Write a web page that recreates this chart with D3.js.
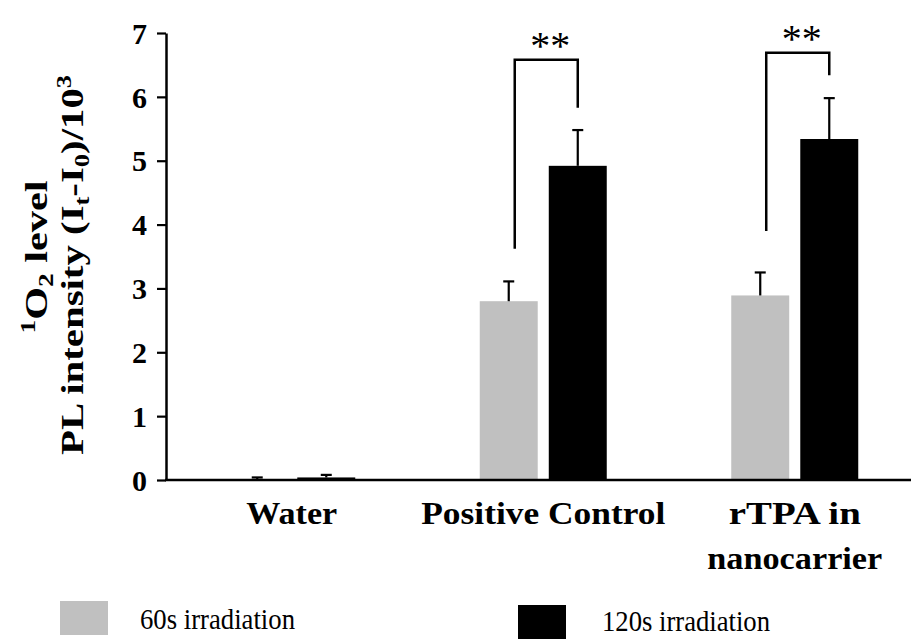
<!DOCTYPE html>
<html>
<head>
<meta charset="utf-8">
<script src="https://cdn.jsdelivr.net/npm/d3@7"></script>
<style>
  body { margin: 0; background: #fff; }
  svg { display: block; }
  .serif { font-family: "Liberation Serif", "Times New Roman", serif; }
</style>
</head>
<body>
<div id="chart"></div>
<script>
// ---------------- data ----------------
var categories = ["Water", "Positive Control", "rTPA in nanocarrier"];
var categoryLines = [["Water"], ["Positive Control"], ["rTPA in", "nanocarrier"]];
var series = ["60s irradiation", "120s irradiation"];
var values60 = [0.01, 2.80, 2.89];
var errors60 = [0.03, 0.31, 0.36];
var values120 = [0.04, 4.92, 5.34];
var errors120 = [0.04, 0.56, 0.64];
var yTicks = [0, 1, 2, 3, 4, 5, 6, 7];
// significance brackets: [category, bracket top, left leg end, right leg end]
var sigCategory = ["Positive Control", "rTPA in nanocarrier"];
var sigTop = [6.58, 6.69];
var sigLeftEnd = [3.62, 3.90];
var sigRightEnd = [5.83, 6.34];
var sigLabel = ["**", "**"];

var colors = { "60s irradiation": "#c0c0c0", "120s irradiation": "#000000" };

// ---------------- setup ----------------
var W = 911, H = 639;
var svg = d3.select("#chart").append("svg")
	.attr("width", W).attr("height", H)
	.attr("class", "serif");

var x0 = d3.scaleBand().domain(categories).range([166, 920.5]);
var x1 = d3.scaleBand().domain(series).range([-63.5, 63.5]).paddingInner(0.16);
var y = d3.scaleLinear().domain([0, 7]).range([480, 33]);

var rows = [];
categories.forEach(function(c, i) {
	rows.push({ cat: c, s: series[0], v: values60[i], e: errors60[i] });
	rows.push({ cat: c, s: series[1], v: values120[i], e: errors120[i] });
});
function cx(d) { return x0(d.cat) + x0.bandwidth() / 2 + x1(d.s) + x1.bandwidth() / 2; }

// ---------------- bars ----------------
svg.selectAll(".bar").data(rows).enter().append("rect")
	.attr("class", "bar")
	.attr("x", function(d) { return cx(d) - x1.bandwidth() / 2; })
	.attr("width", x1.bandwidth())
	.attr("y", function(d) { return y(d.v); })
	.attr("height", function(d) { return y(0) - y(d.v); })
	.attr("fill", function(d) { return colors[d.s]; });

// error bars (upper only)
var eb = svg.selectAll(".err").data(rows).enter().append("g").attr("class", "err")
	.attr("stroke", "#000").attr("stroke-width", 2.2);
eb.append("line")
	.attr("x1", cx).attr("x2", cx)
	.attr("y1", function(d) { return y(d.v); })
	.attr("y2", function(d) { return y(d.v + d.e); });
eb.append("line")
	.attr("x1", function(d) { return cx(d) - 5.5; })
	.attr("x2", function(d) { return cx(d) + 5.5; })
	.attr("y1", function(d) { return y(d.v + d.e); })
	.attr("y2", function(d) { return y(d.v + d.e); });

// ---------------- axes ----------------
var yAxis = d3.axisLeft(y).tickValues(yTicks).tickFormat(d3.format("d"))
	.tickSize(9).tickSizeOuter(0).tickPadding(10);
var gy = svg.append("g").attr("transform", "translate(166,0)").call(yAxis);
gy.select(".domain").attr("stroke-width", 2.5);
gy.selectAll(".tick line").attr("stroke-width", 2.2);
gy.selectAll(".tick text")
	.attr("font-family", "Liberation Serif, serif")
	.attr("font-weight", "bold")
	.attr("font-size", 30)
	.attr("dy", "0.34em");

svg.append("line")
	.attr("x1", 165).attr("x2", W)
	.attr("y1", y(0)).attr("y2", y(0))
	.attr("stroke", "#000").attr("stroke-width", 2.5);

// category labels (stretched to match the original's wide face)
var labelWidths = [[91], [244], [132, 175]];
categories.forEach(function(c, i) {
	categoryLines[i].forEach(function(line, j) {
		svg.append("text")
			.attr("x", x0(c) + x0.bandwidth() / 2)
			.attr("y", 524 + j * 45)
			.attr("text-anchor", "middle")
			.attr("font-weight", "bold")
			.attr("font-size", 32)
			.attr("textLength", labelWidths[i][j])
			.attr("lengthAdjust", "spacingAndGlyphs")
			.text(line);
	});
});

// y title
var t1 = svg.append("text")
	.attr("transform", "translate(47,257) rotate(-90)")
	.attr("text-anchor", "middle")
	.attr("font-weight", "bold")
	.attr("font-size", 31)
	.attr("textLength", 153)
	.attr("lengthAdjust", "spacingAndGlyphs");
t1.append("tspan").attr("font-size", 20).attr("dy", -12).text("1");
t1.append("tspan").attr("dy", 12).text("O");
t1.append("tspan").attr("font-size", 20).attr("dy", 6).text("2");
t1.append("tspan").attr("dy", -6).text(" level");

var t2 = svg.append("text")
	.attr("transform", "translate(83,265) rotate(-90)")
	.attr("text-anchor", "middle")
	.attr("font-weight", "bold")
	.attr("font-size", 31)
	.attr("textLength", 380)
	.attr("lengthAdjust", "spacingAndGlyphs");
t2.append("tspan").text("PL intensity (I");
t2.append("tspan").attr("font-size", 20).attr("dy", 6).text("t");
t2.append("tspan").attr("dy", -6).text("-I");
t2.append("tspan").attr("font-size", 20).attr("dy", 6).text("0");
t2.append("tspan").attr("dy", -6).text(")/10");
t2.append("tspan").attr("font-size", 20).attr("dy", -12).text("3");

// ---------------- significance ----------------
sigCategory.forEach(function(c, i) {
	var xl = x0(c) + x0.bandwidth() / 2 + x1(series[0]) + x1.bandwidth() / 2 + 6;
	var xr = x0(c) + x0.bandwidth() / 2 + x1(series[1]) + x1.bandwidth() / 2;
	svg.append("path")
		.attr("d", "M" + xl + "," + y(sigLeftEnd[i]) + "V" + y(sigTop[i]) + "H" + xr + "V" + y(sigRightEnd[i]))
		.attr("fill", "none").attr("stroke", "#000").attr("stroke-width", 2.5);
	svg.append("text")
		.attr("x", (xl + xr) / 2 + 4)
		.attr("y", y(sigTop[i]) - 1)
		.attr("text-anchor", "middle")
		.attr("font-size", 40)
		.text(sigLabel[i]);
});

// ---------------- legend ----------------
var legendPos = [{ x: 60, y: 601, tx: 140, ty: 629, w: 155 }, { x: 518, y: 605, tx: 602, ty: 631, w: 168 }];
series.forEach(function(s, i) {
	var p = legendPos[i];
	svg.append("rect").attr("x", p.x).attr("y", p.y).attr("width", 48).attr("height", 34)
		.attr("fill", colors[s]);
	svg.append("text").attr("x", p.tx).attr("y", p.ty)
		.attr("font-size", 30)
		.attr("textLength", p.w)
		.attr("lengthAdjust", "spacingAndGlyphs")
		.text(s);
});
</script>
</body>
</html>
